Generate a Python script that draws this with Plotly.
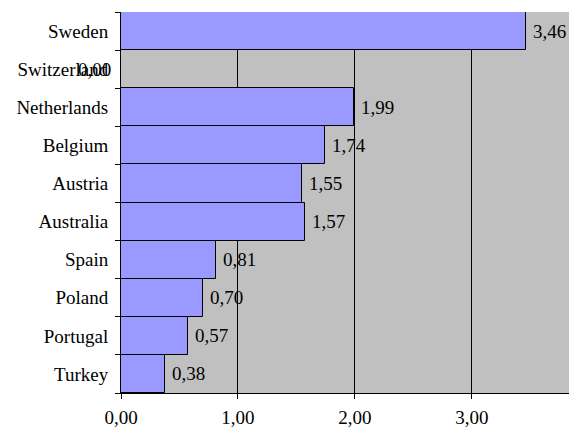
import plotly.graph_objects as go

countries = ["Sweden", "Switzerland", "Netherlands", "Belgium", "Austria",
             "Australia", "Spain", "Poland", "Portugal", "Turkey"]
values = [3.46, 0.00, 1.99, 1.74, 1.55, 1.57, 0.81, 0.70, 0.57, 0.38]
x_ticks = [0, 1, 2, 3]
x_tick_labels = ["0,00", "1,00", "2,00", "3,00"]

FONT = dict(family="Times New Roman, serif", size=19, color="black")

fig = go.Figure()
fig.add_trace(go.Bar(
    y=countries,
    x=values,
    orientation="h",
    marker=dict(color="#9999FF", line=dict(color="black", width=1)),
    hoverinfo="skip",
))

# value labels, written with a decimal comma
for c, v in zip(countries, values):
    txt = f"{v:.2f}".replace(".", ",")
    if v == 0:
        fig.add_annotation(x=v, y=c, text=txt, showarrow=False,
                           xanchor="right", xshift=-8, font=FONT)
    else:
        fig.add_annotation(x=v, y=c, text=txt, showarrow=False,
                           xanchor="left", xshift=5, font=FONT)

fig.update_layout(
    width=569, height=429,
    margin=dict(l=121, r=0, t=12, b=36),
    paper_bgcolor="white",
    plot_bgcolor="#C0C0C0",
    bargap=0,
    showlegend=False,
    font=FONT,
)
fig.update_xaxes(
    range=[0, 3.83],
    tickvals=x_ticks, ticktext=x_tick_labels,
    ticks="outside", ticklen=5, tickcolor="black",
    showgrid=True, gridcolor="black", gridwidth=1,
    showline=True, linecolor="black", linewidth=1,
    zeroline=False,
    tickfont=FONT,
    ticklabelstandoff=2,
    automargin=False,
)
fig.update_yaxes(
    categoryorder="array", categoryarray=countries[::-1],
    ticks="outside", ticklen=5, tickcolor="black",
    tickson="boundaries",
    showgrid=False,
    showline=True, linecolor="black", linewidth=1,
    tickfont=FONT,
    ticklabelstandoff=8,
    automargin=False,
)

fig.write_html("out.html")
